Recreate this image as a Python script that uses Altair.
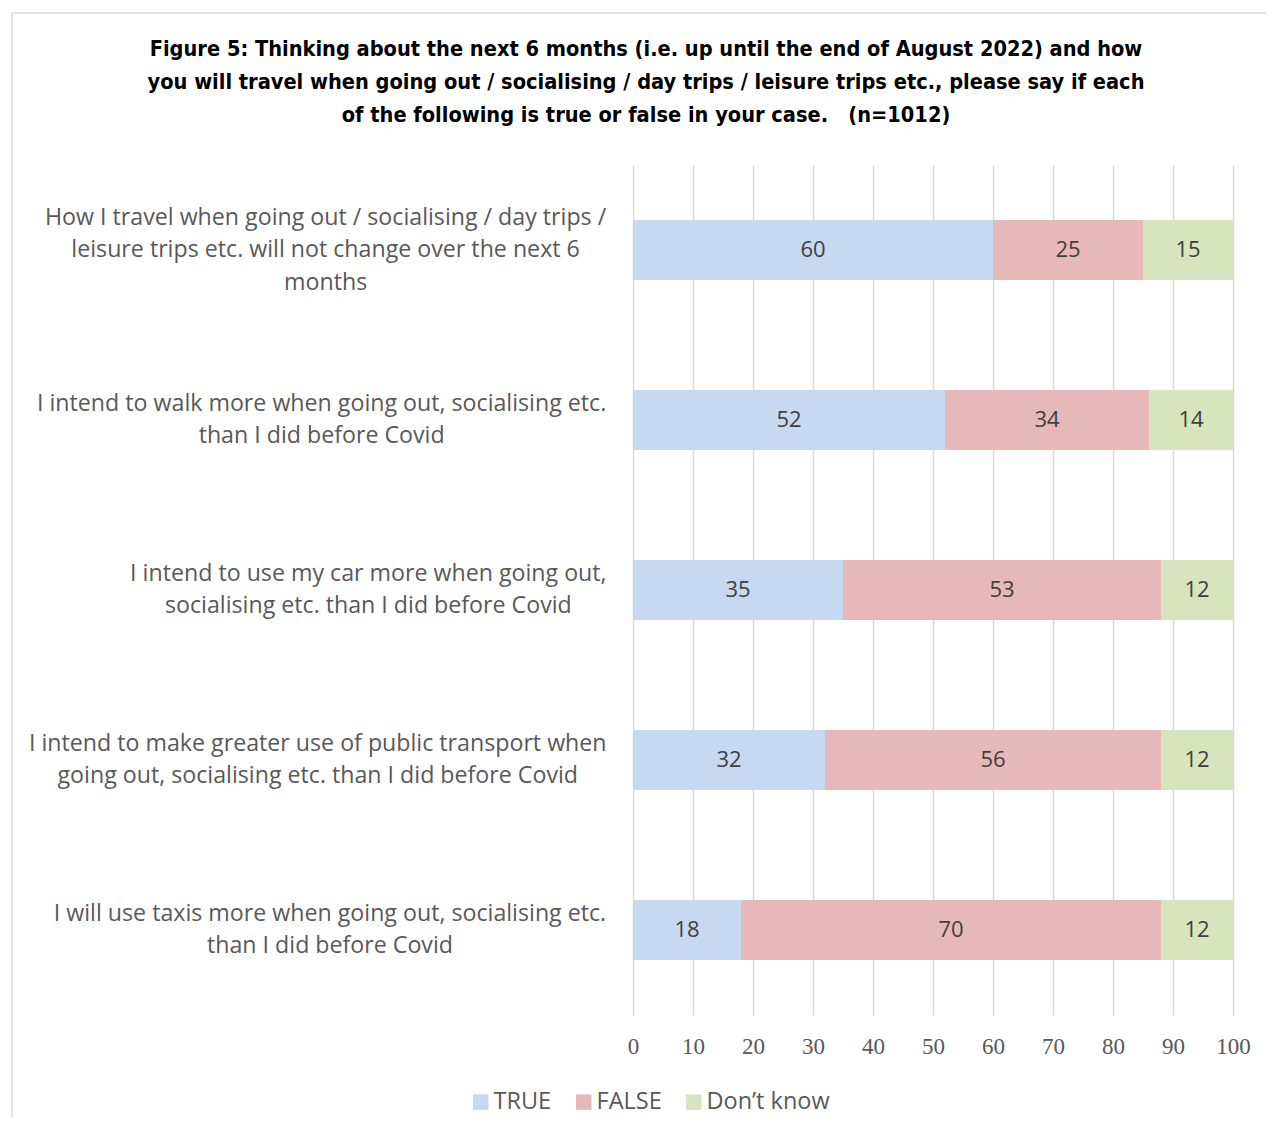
import altair as alt
import pandas as pd

questions = [
    "How I travel when going out / socialising / day trips /\nleisure trips etc. will not change over the next 6\nmonths",
    "I intend to walk more when going out, socialising etc.\nthan I did before Covid",
    "I intend to use my car more when going out,\nsocialising etc. than I did before Covid",
    "I intend to make greater use of public transport when\ngoing out, socialising etc. than I did before Covid",
    "I will use taxis more when going out, socialising etc.\nthan I did before Covid",
]
series = ["TRUE", "FALSE", "Don\u2019t know"]
true_vals = [60, 52, 35, 32, 18]
false_vals = [25, 34, 53, 56, 70]
dk_vals = [15, 14, 12, 12, 12]
colors = ["#C6D9F1", "#E6B9B8", "#D7E4BD"]
x_ticks = [0, 10, 20, 30, 40, 50, 60, 70, 80, 90, 100]
title_lines = [
    "Figure 5: Thinking about the next 6 months (i.e. up until the end of August 2022) and how",
    "you will travel when going out / socialising / day trips / leisure trips etc., please say if each",
    "of the following is true or false in your case.\u00a0\u00a0 (n=1012)",
]

rows = []
for qi, q in enumerate(questions):
    for si, (s, vals) in enumerate(zip(series, [true_vals, false_vals, dk_vals])):
        rows.append({"question": q, "series": s, "order": si, "value": vals[qi]})
df = pd.DataFrame(rows)

# approximate Open Sans advance widths (em) for estimating label block widths
_w = {" ": 0.26, "a": 0.556, "b": 0.613, "c": 0.48, "d": 0.613, "e": 0.561, "f": 0.336,
      "g": 0.548, "h": 0.615, "i": 0.258, "j": 0.258, "k": 0.525, "l": 0.258, "m": 0.935,
      "n": 0.615, "o": 0.6, "p": 0.613, "q": 0.613, "r": 0.408, "s": 0.477, "t": 0.353,
      "u": 0.615, "v": 0.5, "w": 0.775, "x": 0.517, "y": 0.5, "z": 0.468, "I": 0.279,
      "H": 0.73, "C": 0.632, "/": 0.371, ",": 0.246, ".": 0.266, "6": 0.571}
LFS = 23.2


def text_w(s):
    return sum(_w.get(ch, 0.56) for ch in s) * LFS


lab = pd.DataFrame({
    "question": questions,
    "halfw": [max(text_w(l) for l in q.split("\n")) / 2 for q in questions],
    "nlines": [len(q.split("\n")) for q in questions],
})

FONT = "Open Sans"
GRAY = "#595959"
LH = 32.5

yenc = alt.Y("question:N", sort=questions, axis=None,
             scale=alt.Scale(paddingInner=0.647, paddingOuter=0.3235))

base = alt.Chart(df).transform_stack(
    stack="value", groupby=["question"], sort=[alt.SortField("order")], as_=["x0", "x1"]
).transform_calculate(mid="(datum.x0 + datum.x1) / 2")

bars = base.mark_bar(strokeWidth=0).encode(
    x=alt.X("x0:Q", scale=alt.Scale(domain=[0, 100], nice=False),
            axis=alt.Axis(values=x_ticks, title=None, grid=True, gridColor="#D9D9D9",
                          gridWidth=1.5, domain=False, ticks=False,
                          labelFont="Liberation Serif", labelFontSize=23,
                          labelColor=GRAY, labelPadding=20,
                          labelFlush=False, labelOverlap=False, labelBound=False)),
    x2="x1:Q",
    y=yenc,
    color=alt.Color("series:N", sort=series,
                    scale=alt.Scale(domain=series, range=colors),
                    legend=alt.Legend(title=None, orient="none", direction="horizontal",
                                      legendX=-164, legendY=925, symbolType="square",
                                      symbolSize=240, symbolStrokeWidth=0,
                                      labelFont=FONT, labelFontSize=23.5, labelColor=GRAY,
                                      labelOffset=1, columnPadding=20)),
    order=alt.Order("order:Q"),
)

values = base.mark_text(font=FONT, fontSize=22, color="#404040").encode(
    x="mid:Q",
    y=yenc,
    text="value:Q",
)

label_layers = []
for n in sorted(set(lab["nlines"])):
    label_layers.append(
        alt.Chart(lab).transform_filter(f"datum.nlines == {n}").transform_calculate(
            lx="-(26 + datum.halfw)"
        ).mark_text(font=FONT, fontSize=LFS, color=GRAY, align="center", baseline="middle",
                    lineBreak="\n", lineHeight=LH, dy=-(n - 1) * LH / 2).encode(
            x=alt.X("lx:Q", scale=None),
            y=yenc,
            text="question:N",
        )
    )

title = alt.Chart(pd.DataFrame({"t": ["\n".join(title_lines)]})).mark_text(
    font="Liberation Sans Narrow, Arial Narrow, DejaVu Sans Condensed, sans-serif",
    fontSize=21.6, fontWeight="bold", color="#000000", align="center", baseline="middle",
    lineBreak="\n", lineHeight=33,
).encode(x=alt.value(13), y=alt.value(-115), text="t:N")

border = alt.Chart(pd.DataFrame({"a": [0]})).mark_rect(
    fill=None, stroke="#D9D9D9", strokeWidth=1.5
).encode(x=alt.value(-621), x2=alt.value(700), y=alt.value(-152), y2=alt.value(1000))

chart = alt.layer(border, bars, values, *label_layers, title).properties(
    width=600, height=850,
    autosize=alt.AutoSizeParams(type="none"),
    padding={"left": 625, "top": 157, "right": 33, "bottom": 102},
).configure_view(stroke=None)

chart.save("out.html", embed_options={"renderer": "svg", "actions": False})
